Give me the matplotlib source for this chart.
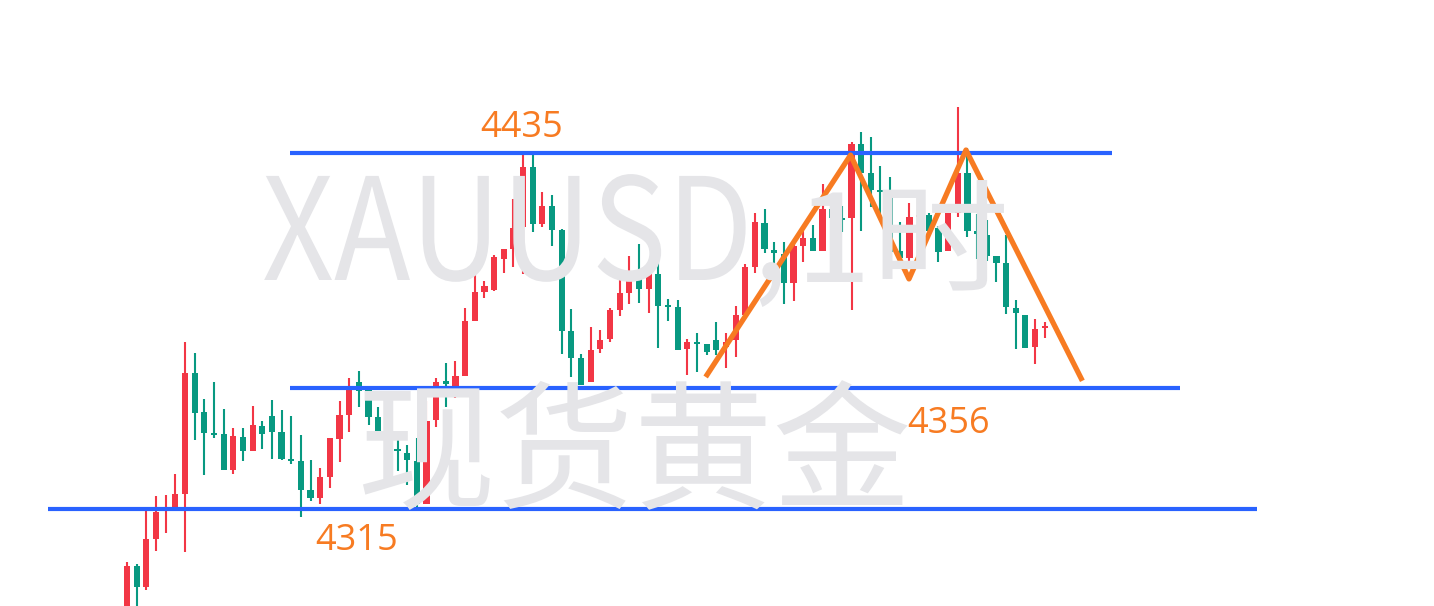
import matplotlib
matplotlib.use("Agg")
import matplotlib.pyplot as plt
import numpy as np
from matplotlib.textpath import TextPath
from matplotlib.patches import PathPatch
from matplotlib.font_manager import FontProperties
from matplotlib.transforms import Affine2D

plt.rcParams['font.family'] = ['Noto Sans CJK SC', 'DejaVu Sans']

# 1h candles, XAUUSD
opens = [4280.5, 4296.0, 4288.9, 4305.1, 4315.2, 4315.8, 4320.2, 4360.9, 4347.8, 4340.8,
         4340.4, 4328.3, 4339.4, 4334.7, 4343.1, 4346.5, 4341.1, 4332.0, 4331.3, 4321.6,
         4318.9, 4325.9, 4338.7, 4346.8, 4357.9, 4355.2, 4346.1, 4340.4, 4335.4, 4334.0,
         4331.3, 4316.9, 4345.1, 4358.3, 4355.2, 4359.9, 4378.5, 4388.2, 4388.9, 4399.3,
         4402.7, 4410.1, 4430.3, 4411.1, 4417.2, 4409.1, 4375.1, 4366.0, 4357.9, 4369.0,
         4372.4, 4382.2, 4387.9, 4392.6, 4389.2, 4394.3, 4383.8, 4383.2, 4369.0, 4371.4,
         4370.7, 4372.1, 4369.7, 4372.1, 4380.5, 4396.6, 4411.4, 4402.3, 4401.0, 4391.2,
         4403.7, 4406.4, 4402.0, 4416.2, 4413.1, 4413.1, 4438.0, 4428.3, 4422.5, 4421.5,
         4402.0, 4399.7, 4413.5, 4414.1, 4409.8, 4402.0, 4414.8, 4428.3, 4408.7, 4407.4,
         4400.3, 4398.0, 4382.8, 4380.5, 4369.7, 4376.1]
closes = [4296.0, 4288.9, 4305.1, 4314.2, 4315.8, 4320.2, 4360.9, 4347.5, 4340.8, 4340.1,
          4328.3, 4339.7, 4334.7, 4343.4, 4340.4, 4341.1, 4332.0, 4331.7, 4321.6, 4318.9,
          4325.9, 4339.1, 4346.8, 4355.9, 4354.9, 4346.1, 4340.4, 4335.0, 4334.7, 4331.7,
          4316.9, 4344.8, 4357.9, 4357.2, 4359.9, 4378.5, 4388.2, 4390.2, 4400.0, 4402.7,
          4409.8, 4430.3, 4411.1, 4417.2, 4409.1, 4375.1, 4366.0, 4356.9, 4368.7, 4372.1,
          4382.2, 4387.9, 4392.6, 4389.2, 4394.3, 4383.5, 4383.5, 4368.7, 4371.4, 4370.7,
          4368.0, 4368.7, 4371.4, 4380.5, 4396.6, 4411.8, 4402.7, 4401.3, 4391.2, 4403.7,
          4406.4, 4402.0, 4416.2, 4413.1, 4412.8, 4438.0, 4428.3, 4422.5, 4421.9, 4401.7,
          4399.7, 4413.5, 4414.1, 4408.7, 4401.7, 4414.8, 4428.3, 4408.7, 4407.7, 4400.3,
          4398.0, 4383.2, 4381.1, 4369.4, 4375.8, 4376.8]
highs = [4297.3, 4296.7, 4315.8, 4319.5, 4319.9, 4327.0, 4371.4, 4367.7, 4352.2, 4357.9,
         4348.8, 4342.4, 4342.4, 4349.8, 4344.8, 4351.9, 4348.5, 4346.5, 4340.1, 4331.7,
         4329.0, 4339.1, 4351.5, 4359.3, 4361.6, 4356.2, 4349.5, 4343.4, 4338.7, 4336.7,
         4339.1, 4351.5, 4359.3, 4364.3, 4365.0, 4382.8, 4395.3, 4391.9, 4400.7, 4402.7,
         4419.5, 4434.3, 4434.3, 4421.9, 4420.9, 4409.4, 4382.5, 4367.3, 4376.4, 4375.4,
         4382.8, 4392.9, 4400.3, 4404.4, 4398.0, 4399.0, 4385.9, 4385.5, 4372.4, 4374.4,
         4370.7, 4378.1, 4374.4, 4383.5, 4397.6, 4414.8, 4416.2, 4405.0, 4405.0, 4404.7,
         4408.7, 4410.8, 4424.6, 4421.2, 4417.2, 4438.7, 4442.1, 4440.4, 4430.6, 4426.9,
         4411.8, 4418.2, 4418.8, 4414.8, 4410.4, 4414.8, 4450.5, 4436.7, 4414.5, 4412.4,
         4400.3, 4407.4, 4385.5, 4380.5, 4379.1, 4378.1]
lows = [4279.2, 4281.2, 4287.9, 4301.0, 4307.1, 4315.8, 4300.7, 4338.4, 4326.6, 4339.1,
        4328.3, 4327.0, 4331.3, 4334.7, 4335.4, 4332.0, 4331.7, 4330.3, 4312.5, 4317.9,
        4316.9, 4322.2, 4331.0, 4341.1, 4349.5, 4343.4, 4339.7, 4335.0, 4328.0, 4323.2,
        4315.8, 4316.9, 4342.8, 4349.5, 4352.5, 4359.9, 4378.5, 4386.2, 4388.5, 4394.6,
        4396.6, 4394.3, 4408.4, 4410.1, 4403.7, 4367.3, 4359.6, 4356.9, 4357.9, 4367.7,
        4371.4, 4380.1, 4384.2, 4384.5, 4381.1, 4369.4, 4378.5, 4368.7, 4360.3, 4361.3,
        4367.0, 4367.0, 4362.6, 4366.3, 4380.5, 4394.6, 4401.3, 4395.6, 4384.2, 4385.2,
        4398.3, 4402.0, 4402.0, 4408.1, 4408.4, 4382.2, 4408.7, 4416.8, 4414.5, 4396.6,
        4396.6, 4396.3, 4408.4, 4408.4, 4398.3, 4402.0, 4413.5, 4406.7, 4399.3, 4398.6,
        4391.6, 4380.8, 4369.0, 4369.4, 4364.0, 4372.7]

levels = [4435, 4356, 4315]
level_labels = ["4435", "4356", "4315"]

# double top: start, top 1, neckline dip, top 2, end
zz_bar = [59.9, 74.9, 80.95, 86.85, 98.9]
zz_price = [4359.6, 4434.3, 4392.6, 4436.0, 4358.3]

UP = "#F23645"
DOWN = "#089981"
BLUE = "#2962FF"
ORANGE = "#F77B22"
WM = "#E5E5E8"

fig = plt.figure(figsize=(14.34, 6.06), dpi=100)
ax = fig.add_axes([0, 0, 1, 1])
ax.set_xlim(-13.15, 135.3)
ax.set_ylim(4282.5, 4486.5)
ax.axis("off")

o = np.array(opens)
c = np.array(closes)
h = np.array(highs)
l = np.array(lows)
x = np.arange(len(o))
cols = np.where(c >= o, UP, DOWN)

ax.vlines(x, l, h, colors=cols, linewidth=1.5, zorder=2)
ax.bar(x, np.maximum(np.abs(c - o), 0.6), bottom=np.minimum(o, c) - np.where(np.abs(c - o) < 0.6, 0.3, 0),
       width=0.64, color=cols, linewidth=0, zorder=3)

# watermark: latin part is condensed in the source, the CJK part a bit squat
wm_font = FontProperties(family="Noto Sans CJK SC")
tp1 = TextPath((0, 0), "XAUUSD,", size=142, prop=wm_font)
tr1 = Affine2D().scale(0.885, 1.0).translate(262, 606 - 280)
fig.patches.append(PathPatch(tp1, transform=tr1, facecolor=WM, edgecolor="none", zorder=0, figure=fig))
tp2 = TextPath((0, 0), "1时", size=142, prop=wm_font)
tr2 = Affine2D().scale(0.97, 0.86).translate(795, 606 - 282)
fig.patches.append(PathPatch(tp2, transform=tr2, facecolor=WM, edgecolor="none", zorder=0, figure=fig))
fig.text(0.248, 0.178, "现货黄金", fontsize=100, color=WM, zorder=0, va="baseline", ha="left")

# support / resistance
spans = [(16.9, 102.0), (16.9, 109.0), (-8.2, 117.0)]
for lv, (x0, x1) in zip(levels, spans):
    ax.hlines(lv, x0, x1, colors=BLUE, linewidth=3, zorder=4)

ax.plot(zz_bar, zz_price, color=ORANGE, linewidth=3.8, zorder=5, solid_capstyle="butt")

lab_pos = [(36.6, 4443.4), (80.8, 4343.9), (19.5, 4304.4)]
for txt, (lx, ly) in zip(level_labels, lab_pos):
    ax.text(lx, ly, txt, fontsize=26, color=ORANGE, family=["Open Sans", "DejaVu Sans"],
            ha="left", va="center", zorder=6)

fig.savefig("out.png", dpi=100)
